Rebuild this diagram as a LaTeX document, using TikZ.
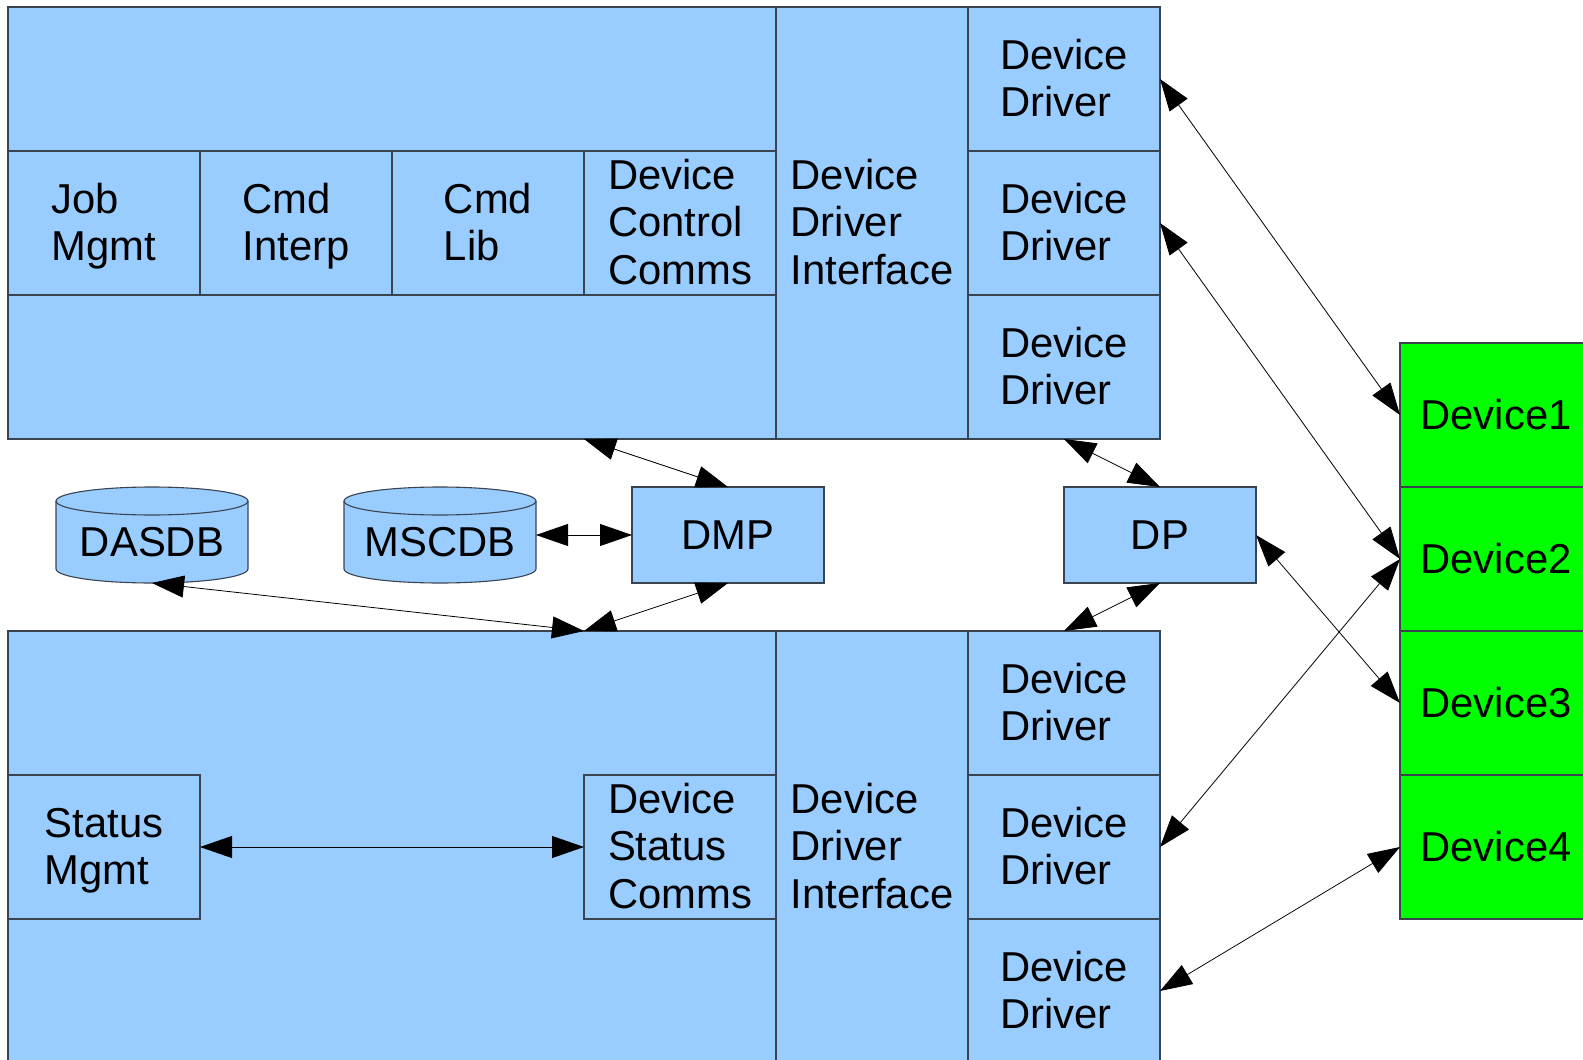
\documentclass[tikz,border=0pt]{standalone}
\usepackage{fontspec}
\setmainfont{Liberation Sans}
\usetikzlibrary{arrows.meta,calc}
\definecolor{boxblue}{HTML}{99CCFF}
\definecolor{devgreen}{HTML}{00FF00}
\definecolor{edgecol}{HTML}{3A4450}
\newcommand\mystrut{\rule[-9.9pt]{0pt}{47.5pt}}
\begin{document}
\begin{tikzpicture}[x=1pt,y=-1pt,
  base/.style={draw=edgecol, line width=1.1pt, fill=boxblue, inner sep=0pt, outer sep=0pt,
               align=left, font=\fontsize{41.8pt}{47.5pt}\selectfont, text=black},
  cell/.style={base, minimum width=192pt, minimum height=144pt},
  tall/.style={base, minimum width=192pt, minimum height=432pt},
  big/.style={base, minimum width=768pt, minimum height=432pt},
  small/.style={base, minimum width=192pt, minimum height=96pt},
  dev/.style={cell, fill=devgreen},
  dbtext/.style={inner sep=0pt, outer sep=0pt, minimum width=192pt, minimum height=82pt,
                 font=\fontsize{41.8pt}{47.5pt}\selectfont, text=black},
  link/.style={line width=0.8pt, black,
               {Triangle[length=32pt,width=22pt]}-{Triangle[length=32pt,width=22pt]}},
  dbcyl/.pic={
    \path[fill=boxblue] (-96,-34) -- (-96,34)
      arc[start angle=180,end angle=0,x radius=96,y radius=14] -- (96,-34)
      arc[start angle=0,end angle=-180,x radius=96,y radius=14] -- cycle;
    \draw[draw=edgecol, line width=1.1pt] (-96,-34) -- (-96,34)
      arc[start angle=180,end angle=0,x radius=96,y radius=14] -- (96,-34);
    \draw[draw=edgecol, line width=1.1pt] (0,-34) ellipse[x radius=96, y radius=14];
  },
]
\useasboundingbox (0,0) rectangle (1583,1060);
\clip (0,0) rectangle (1583,1060);

% upper block
\node[big] (upbox) at (392,223) {};
\node[cell] (job) at (104,223) {\mystrut Job\\\mystrut Mgmt};
\node[cell] (interp) at (296,223) {\mystrut Cmd\\\mystrut Interp};
\node[cell] (lib) at (488,223) {\mystrut Cmd\\\mystrut Lib};
\node[cell] (dcc) at (680,223) {\mystrut Device\\\mystrut Control\\\mystrut Comms};
\node[tall] (ddiup) at (872,223) {\mystrut Device\\\mystrut Driver\\\mystrut Interface};
\node[cell] (dd1) at (1064,79) {\mystrut Device\\\mystrut Driver};
\node[cell] (dd2) at (1064,223) {\mystrut Device\\\mystrut Driver};
\node[cell] (dd3) at (1064,367) {\mystrut Device\\\mystrut Driver};

% lower block
\node[big] (lowbox) at (392,847) {};
\node[cell] (status) at (104,847) {\mystrut Status\\\mystrut Mgmt};
\node[cell] (dsc) at (680,847) {\mystrut Device\\\mystrut Status\\\mystrut Comms};
\node[tall] (ddilow) at (872,847) {\mystrut Device\\\mystrut Driver\\\mystrut Interface};
\node[cell] (ldd1) at (1064,703) {\mystrut Device\\\mystrut Driver};
\node[cell] (ldd2) at (1064,847) {\mystrut Device\\\mystrut Driver};
\node[cell] (ldd3) at (1064,991) {\mystrut Device\\\mystrut Driver};

% devices
\node[dev] (dev1) at (1496,415) {Device1};
\node[dev] (dev2) at (1496,559) {Device2};
\node[dev] (dev3) at (1496,703) {Device3};
\node[dev] (dev4) at (1496,847) {Device4};

% middle row
\pic at (152,535) {dbcyl};
\pic at (440,535) {dbcyl};
\node[dbtext] (dasdb) at (152,542) {DASDB};
\node[dbtext] (mscdb) at (440,542) {MSCDB};
\node[small] (dmp) at (728,535) {DMP};
\node[small] (dp) at (1160,535) {DP};

\coordinate (upA) at ($(upbox.south west)!0.75!(upbox.south east)$);
\coordinate (lowA) at ($(lowbox.north west)!0.75!(lowbox.north east)$);

% connectors
\draw[link] (upA) -- (dmp.north);
\draw[link] (mscdb.east |- dmp.west) -- (dmp.west);
\draw[link] (dmp.south) -- (lowA);
\draw[link] (dasdb.south) -- (lowA);
\draw[link] (dd3.south) -- (dp.north);
\draw[link] (dp.south) -- (ldd1.north);
\draw[link] (dd1.east) -- (dev1.west);
\draw[link] (dd2.east) -- (dev2.west);
\draw[link] (dp.east) -- (dev3.west);
\draw[link] (ldd2.east) -- (dev2.west);
\draw[link] (ldd3.east) -- (dev4.west);
\draw[link] (status.east) -- (dsc.west);
\end{tikzpicture}
\end{document}
